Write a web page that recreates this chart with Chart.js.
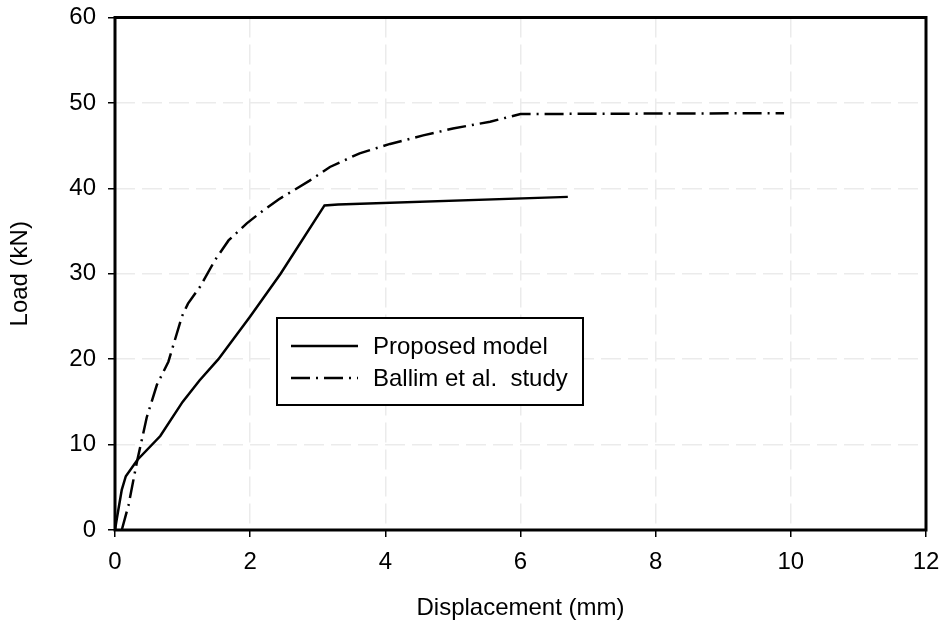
<!DOCTYPE html>
<html>
<head>
<meta charset="utf-8">
<script src="https://cdn.jsdelivr.net/npm/chart.js@4/dist/chart.umd.min.js"></script>
<style>
  html, body { margin: 0; padding: 0; background: #fff; }
  #wrap { width: 944px; height: 625px; }
</style>
</head>
<body>
<div id="wrap"><canvas id="c" width="944" height="625"></canvas></div>
<script>
// ---- Data ----
const xTitle = 'Displacement (mm)';
const yTitle = 'Load (kN)';
const seriesNames = ['Proposed model', 'Ballim et al.  study'];

const proposedX = [0, 0.02, 0.1, 0.16, 0.33, 0.67, 1.0, 1.25, 1.53, 2.0, 2.45, 3.1, 3.3, 6.7];
const proposedY = [0, 1.0, 4.7, 6.3, 8.2, 11.0, 15.0, 17.5, 20.0, 25.0, 30.0, 38.0, 38.1, 39.0];

const ballimX = [0.1, 0.2, 0.32, 0.47, 0.62, 0.79, 0.99, 1.08, 1.26, 1.48, 1.68, 1.95, 2.19, 2.42, 2.88, 3.18, 3.4, 3.62, 4.07, 4.56, 5.0, 5.55, 6.0, 9.9];
const ballimY = [0, 2.9, 7.8, 13.2, 17.0, 19.7, 25.0, 26.5, 28.5, 31.6, 33.9, 35.9, 37.4, 38.7, 40.9, 42.5, 43.3, 44.1, 45.2, 46.2, 47.0, 47.8, 48.7, 48.8];

const xTicks = [0, 2, 4, 6, 8, 10, 12];
const yTicks = [0, 10, 20, 30, 40, 50, 60];

// ---- Build library structures ----
const toPoints = (xs, ys) => xs.map((x, i) => ({ x: x, y: ys[i] }));
const FONT = '"Liberation Sans", Arial, sans-serif';
const ballimDash = [19, 6, 2, 6];

const framePlugin = {
  id: 'frame',
  afterDraw(chart) {
    const { ctx, chartArea: a } = chart;
    ctx.save();
    ctx.strokeStyle = '#000';
    ctx.lineWidth = 3;
    ctx.setLineDash([]);
    ctx.strokeRect(a.left, a.top, a.right - a.left, a.bottom - a.top);
    ctx.restore();
  }
};

const legendPlugin = {
  id: 'boxLegend',
  afterDraw(chart) {
    const { ctx } = chart;
    const box = { x: 277, y: 318, w: 306, h: 87 };
    ctx.save();
    ctx.fillStyle = '#fff';
    ctx.fillRect(box.x, box.y, box.w, box.h);
    ctx.strokeStyle = '#000';
    ctx.lineWidth = 2;
    ctx.setLineDash([]);
    ctx.strokeRect(box.x, box.y, box.w, box.h);
    const rows = [346, 378];
    chart.data.datasets.forEach((ds, i) => {
      const y = rows[i];
      ctx.beginPath();
      ctx.lineWidth = 2.5;
      ctx.setLineDash(ds.borderDash || []);
      ctx.moveTo(291, y);
      ctx.lineTo(358, y);
      ctx.stroke();
      ctx.setLineDash([]);
      ctx.fillStyle = '#000';
      ctx.font = '24px ' + FONT;
      ctx.textBaseline = 'middle';
      ctx.textAlign = 'left';
      ctx.fillText(ds.label, 373, y + 1);
    });
    ctx.restore();
  }
};

new Chart(document.getElementById('c'), {
  type: 'scatter',
  data: {
    datasets: [
      {
        label: seriesNames[0],
        data: toPoints(proposedX, proposedY),
        showLine: true,
        borderColor: '#000',
        borderWidth: 2.5,
        pointRadius: 0,
        tension: 0,
        fill: false
      },
      {
        label: seriesNames[1],
        data: toPoints(ballimX, ballimY),
        showLine: true,
        borderColor: '#000',
        borderWidth: 2.5,
        borderDash: ballimDash,
        pointRadius: 0,
        tension: 0,
        fill: false
      }
    ]
  },
  options: {
    responsive: false,
    animation: false,
    devicePixelRatio: 1,
    layout: { padding: { top: 17.5, right: 18, bottom: 0, left: 0 } },
    plugins: {
      legend: { display: false },
      tooltip: { enabled: false }
    },
    scales: {
      x: {
        type: 'linear',
        min: 0, max: 12,
        afterBuildTicks(scale) { scale.ticks = xTicks.map(v => ({ value: v })); },
        afterFit(scale) { scale.height = 95; scale.paddingLeft = 0; scale.paddingRight = 0; },
        ticks: { color: '#000', font: { family: FONT, size: 24 }, padding: 11, maxRotation: 0 },
        grid: {
          color: '#ebebeb', lineWidth: 1.5,
          drawTicks: true, tickLength: 7, tickColor: '#000', tickWidth: 1.5
        },
        border: { display: false, dash: [20, 7] },
        title: { display: true, text: xTitle, color: '#000', font: { family: FONT, size: 24 }, padding: { top: 0, bottom: 2 } }
      },
      y: {
        type: 'linear',
        min: 0, max: 60,
        afterBuildTicks(scale) { scale.ticks = yTicks.map(v => ({ value: v })); },
        afterFit(scale) { scale.width = 115; scale.paddingTop = 0; scale.paddingBottom = 0; },
        ticks: { color: '#000', font: { family: FONT, size: 24 }, padding: 12 },
        grid: {
          color: '#ebebeb', lineWidth: 1.5,
          drawTicks: true, tickLength: 7, tickColor: '#000', tickWidth: 1.5
        },
        border: { display: false, dash: [20, 7] },
        title: { display: true, text: yTitle, color: '#000', font: { family: FONT, size: 24 }, padding: { top: 6, bottom: 0 } }
      }
    }
  },
  plugins: [framePlugin, legendPlugin]
});
</script>
</body>
</html>
